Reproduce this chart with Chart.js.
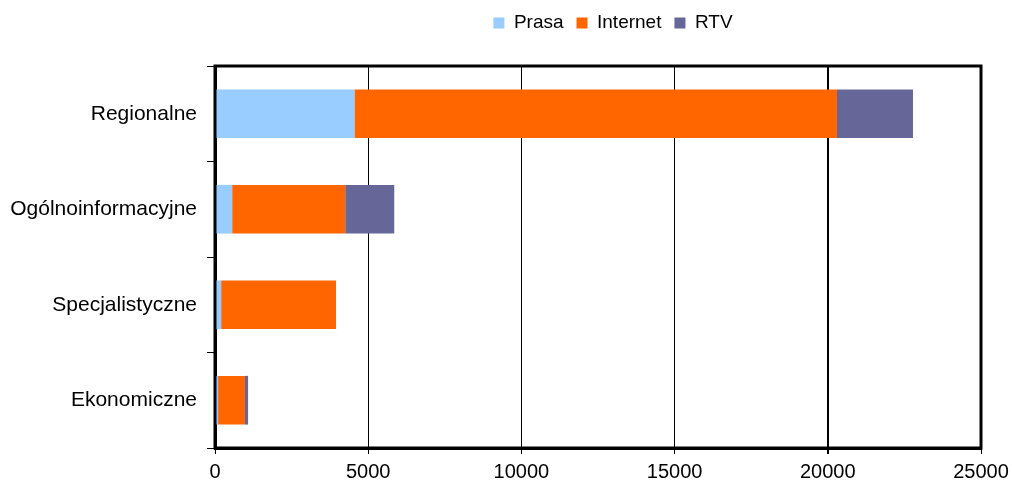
<!DOCTYPE html>
<html>
<head>
<meta charset="utf-8">
<script src="https://cdn.jsdelivr.net/npm/chart.js@4"></script>
<style>
  html, body { margin: 0; padding: 0; background: #fff; }
  #wrap { width: 1012px; height: 481px; }
</style>
</head>
<body>
<div id="wrap"><canvas id="c" width="1012" height="481"></canvas></div>
<script>
const categories = ["Regionalne", "Ogólnoinformacyjne", "Specjalistyczne", "Ekonomiczne"];
const prasa = [4550, 560, 200, 100];
const internet = [15750, 3690, 3750, 880];
const rtv = [2480, 1600, 0, 100];
const xTicks = [0, 5000, 10000, 15000, 20000, 25000];

const LEGEND_H = 66;
const LEGEND_CX = 613;
const LEGEND_CY = 23;

// legend strip above the plot + thick frame round the plot area
const frame = {
  id: "frame",
  beforeInit(chart) {
    const lg = chart.legend;
    const fit = lg.fit;
    lg.fit = function () {
      fit.call(this);
      this.height = LEGEND_H;
    };
  },
  afterLayout(chart) {
    const lg = chart.legend;
    const dx = LEGEND_CX - (lg.left + lg.right) / 2;
    lg.left += dx;
    lg.right += dx;
    const itemH = Math.max(lg.options.labels.boxHeight, lg.options.labels.font.size);
    lg.top = LEGEND_CY - lg.options.labels.padding - itemH / 2;
  },
  afterDatasetsDraw(chart) {
    const { ctx, chartArea: a } = chart;
    ctx.save();
    ctx.strokeStyle = "#000";
    ctx.lineWidth = 3;
    ctx.strokeRect(a.left, a.top, a.right - a.left, a.bottom - a.top);
    ctx.restore();
  },
};

Chart.defaults.font.family = "'Liberation Sans', Arial, sans-serif";
Chart.defaults.color = "#000";

new Chart(document.getElementById("c"), {
  type: "bar",
  data: {
    labels: categories,
    datasets: [
      { label: "Prasa", data: prasa, backgroundColor: "#99CCFF" },
      { label: "Internet", data: internet, backgroundColor: "#FF6600" },
      { label: "RTV", data: rtv, backgroundColor: "#666699" },
    ],
  },
  options: {
    indexAxis: "y",
    responsive: false,
    animation: false,
    barPercentage: 0.51,
    categoryPercentage: 1,
    layout: { padding: { left: 0, right: 31, top: 0, bottom: 0 } },
    plugins: {
      tooltip: { enabled: false },
      legend: {
        position: "top",
        align: "center",
        labels: { boxWidth: 11, boxHeight: 11, font: { size: 19 }, padding: 13 },
      },
    },
    scales: {
      x: {
        stacked: true,
        min: 0,
        max: 25000,
        afterBuildTicks(scale) {
          scale.ticks = xTicks.map((v) => ({ value: v }));
        },
        afterFit(scale) {
          scale.height = 33;
          scale.paddingLeft = 0;
          scale.paddingRight = 0;
        },
        grid: {
          color: "#000",
          lineWidth: (c) => (c.tick && c.tick.value === 20000 ? 2 : 1),
          tickLength: 6,
        },
        border: { color: "#000", width: 3 },
        ticks: {
          font: { size: 20 },
          padding: 6,
          maxRotation: 0,
          callback: (v) => String(v),
        },
      },
      y: {
        stacked: true,
        afterFit(scale) {
          scale.width = 215;
        },
        grid: { offset: true, drawOnChartArea: false, color: "#000", tickLength: 8 },
        border: { color: "#000", width: 3 },
        ticks: { font: { size: 21 }, padding: 10 },
      },
    },
  },
  plugins: [frame],
});
</script>
</body>
</html>
